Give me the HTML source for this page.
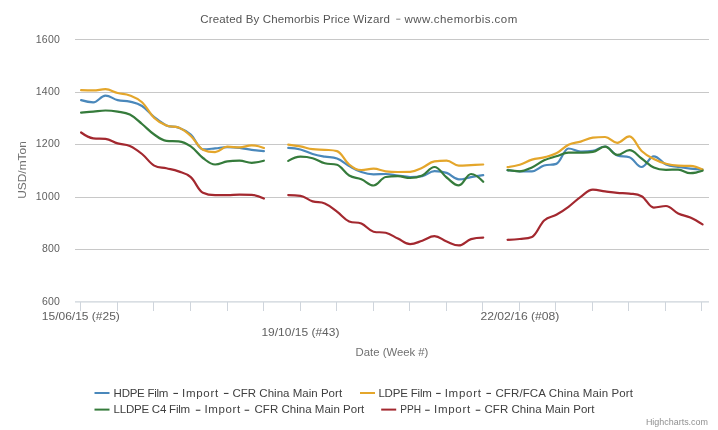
<!DOCTYPE html>
<html><head><meta charset="utf-8"><title>Chart</title>
<style>html,body{margin:0;padding:0;background:#fff;width:718px;height:430px;overflow:hidden}
svg{display:block;font-family:"Liberation Sans",sans-serif;will-change:transform}
#w{width:718px;height:430px}</style></head>
<body><div id="w"><svg width="718" height="430" viewBox="0 0 718 430">
<rect x="0" y="0" width="718" height="430" fill="#ffffff"/>
<path d="M 75 39.5 L 709 39.5" stroke="#c8c8c8" stroke-width="1" fill="none"/>
<path d="M 75 92.5 L 709 92.5" stroke="#c8c8c8" stroke-width="1" fill="none"/>
<path d="M 75 144.5 L 709 144.5" stroke="#c8c8c8" stroke-width="1" fill="none"/>
<path d="M 75 197.5 L 709 197.5" stroke="#c8c8c8" stroke-width="1" fill="none"/>
<path d="M 75 249.5 L 709 249.5" stroke="#c8c8c8" stroke-width="1" fill="none"/>
<path d="M 75 301.8 L 709 301.8" stroke="#ccd3da" stroke-width="1.3" fill="none"/>
<path d="M 80.5 302 L 80.5 311" stroke="#cfd5dc" stroke-width="1"/>
<path d="M 117.5 302 L 117.5 311" stroke="#cfd5dc" stroke-width="1"/>
<path d="M 153.5 302 L 153.5 311" stroke="#cfd5dc" stroke-width="1"/>
<path d="M 190.5 302 L 190.5 311" stroke="#cfd5dc" stroke-width="1"/>
<path d="M 227.5 302 L 227.5 311" stroke="#cfd5dc" stroke-width="1"/>
<path d="M 263.5 302 L 263.5 311" stroke="#cfd5dc" stroke-width="1"/>
<path d="M 300.5 302 L 300.5 311" stroke="#cfd5dc" stroke-width="1"/>
<path d="M 336.5 302 L 336.5 311" stroke="#cfd5dc" stroke-width="1"/>
<path d="M 373.5 302 L 373.5 311" stroke="#cfd5dc" stroke-width="1"/>
<path d="M 409.5 302 L 409.5 311" stroke="#cfd5dc" stroke-width="1"/>
<path d="M 446.5 302 L 446.5 311" stroke="#cfd5dc" stroke-width="1"/>
<path d="M 482.5 302 L 482.5 311" stroke="#cfd5dc" stroke-width="1"/>
<path d="M 519.5 302 L 519.5 311" stroke="#cfd5dc" stroke-width="1"/>
<path d="M 555.5 302 L 555.5 311" stroke="#cfd5dc" stroke-width="1"/>
<path d="M 592.5 302 L 592.5 311" stroke="#cfd5dc" stroke-width="1"/>
<path d="M 628.5 302 L 628.5 311" stroke="#cfd5dc" stroke-width="1"/>
<path d="M 665.5 302 L 665.5 311" stroke="#cfd5dc" stroke-width="1"/>
<path d="M 701.5 302 L 701.5 311" stroke="#cfd5dc" stroke-width="1"/>
<text x="60" y="42.5" text-anchor="end" font-size="10.5" fill="#606060" letter-spacing="0.2">1600</text>
<text x="60" y="95.0" text-anchor="end" font-size="10.5" fill="#606060" letter-spacing="0.2">1400</text>
<text x="60" y="147.3" text-anchor="end" font-size="10.5" fill="#606060" letter-spacing="0.2">1200</text>
<text x="60" y="200.0" text-anchor="end" font-size="10.5" fill="#606060" letter-spacing="0.2">1000</text>
<text x="60" y="252.3" text-anchor="end" font-size="10.5" fill="#606060" letter-spacing="0.2">800</text>
<text x="60" y="304.5" text-anchor="end" font-size="10.5" fill="#606060" letter-spacing="0.2">600</text>
<text x="80.8" y="320.3" text-anchor="middle" font-size="11" fill="#606060" textLength="78" lengthAdjust="spacingAndGlyphs">15/06/15 (#25)</text>
<text x="300.4" y="336" text-anchor="middle" font-size="11" fill="#606060" textLength="78" lengthAdjust="spacingAndGlyphs">19/10/15 (#43)</text>
<text x="519.9" y="320.3" text-anchor="middle" font-size="11" fill="#606060" textLength="78.9" lengthAdjust="spacingAndGlyphs">22/02/16 (#08)</text>
<text x="392" y="355.6" text-anchor="middle" font-size="11" fill="#707070" textLength="72.8" lengthAdjust="spacingAndGlyphs">Date (Week #)</text>
<text transform="translate(25.5,170) rotate(-90)" x="0" y="0" text-anchor="middle" font-size="11" fill="#707070" textLength="57.6" lengthAdjust="spacingAndGlyphs">USD/mTon</text>
<path d="M 81.1 100.1 C 81.1 100.1 88.41 102.3 93.28 102.3 C 98.16 102.3 100.6 95.6 105.47 95.6 C 110.34 95.6 112.78 98.9 117.66 100.1 C 122.53 101.3 124.97 100.42 129.84 101.6 C 134.71 102.78 137.15 102.92 142.03 106 C 146.9 109.08 149.34 113.12 154.21 117 C 159.08 120.88 161.52 123.28 166.39 125.4 C 171.27 127.52 173.71 125.78 178.58 127.6 C 183.45 129.42 185.89 130.16 190.76 134.5 C 195.64 138.84 198.08 149.3 202.95 149.3 C 207.82 149.3 210.26 148.84 215.13 148.4 C 220.01 147.96 222.45 147.1 227.32 147.1 C 232.19 147.1 234.63 147.24 239.5 147.8 C 244.38 148.36 246.82 149.24 251.69 149.9 C 256.56 150.56 263.88 151.1 263.88 151.1 M 288.25 147.9 C 288.25 147.9 295.56 148.28 300.43 149.5 C 305.3 150.72 307.74 152.56 312.62 154 C 317.49 155.44 319.93 155.8 324.8 156.7 C 329.67 157.6 332.11 156.7 336.99 158.5 C 341.86 160.3 344.3 163.3 349.17 166 C 354.04 168.7 356.48 170.34 361.36 172 C 366.23 173.66 368.67 174.3 373.54 174.3 C 378.41 174.3 380.85 174 385.73 174 C 390.6 174 393.04 174.9 397.91 175.5 C 402.78 176.1 405.22 177 410.1 177 C 414.97 177 417.41 177 422.28 176.1 C 427.15 175.2 429.59 171.2 434.47 171.2 C 439.34 171.2 441.78 171.26 446.65 172.9 C 451.52 174.54 453.96 179.4 458.84 179.4 C 463.71 179.4 466.15 177.96 471.02 177.1 C 475.89 176.24 483.21 175.1 483.21 175.1 M 507.58 170.2 C 507.58 170.2 514.89 171.3 519.76 171.3 C 524.63 171.3 527.07 171.3 531.95 171.3 C 536.82 171.3 539.26 166.98 544.13 165.5 C 549 164.02 551.44 165.5 556.32 163.9 C 561.19 162.3 563.63 148.5 568.5 148.5 C 573.37 148.5 575.81 151.6 580.69 151.6 C 585.56 151.6 588 151.6 592.87 150.8 C 597.74 150 600.18 146.5 605.06 146.5 C 609.93 146.5 612.37 153.8 617.24 155.5 C 622.11 157.2 624.55 155.5 629.43 157.2 C 634.3 158.9 636.74 167 641.61 167 C 646.48 167 648.92 156.3 653.8 156.3 C 658.67 156.3 661.11 162.36 665.98 164.5 C 670.85 166.64 673.29 166.18 678.17 167 C 683.04 167.82 685.48 168.08 690.35 168.6 C 695.22 169.12 702.54 169.6 702.54 169.6" stroke="#4a88bb" stroke-width="2.2" fill="none" stroke-linecap="round" stroke-linejoin="round"/>
<path d="M 81.1 90.2 C 81.1 90.2 88.41 90.4 93.28 90.4 C 98.16 90.4 100.6 89.2 105.47 89.2 C 110.34 89.2 112.78 91.74 117.66 93 C 122.53 94.26 124.97 93.64 129.84 95.5 C 134.71 97.36 137.15 97.8 142.03 102.3 C 146.9 106.8 149.34 113.34 154.21 118 C 159.08 122.66 161.52 123.68 166.39 125.6 C 171.27 127.52 173.71 125.6 178.58 127.6 C 183.45 129.6 185.89 131.58 190.76 136 C 195.64 140.42 198.08 147.3 202.95 149.7 C 207.82 152.1 210.26 152.1 215.13 152.1 C 220.01 152.1 222.45 146.7 227.32 146.7 C 232.19 146.7 234.63 147.4 239.5 147.4 C 244.38 147.4 246.82 145.3 251.69 145.3 C 256.56 145.3 263.88 148 263.88 148 M 288.25 144.6 C 288.25 144.6 295.56 145.48 300.43 146.4 C 305.3 147.32 307.74 148.6 312.62 149.2 C 317.49 149.8 319.93 149.42 324.8 149.8 C 329.67 150.18 332.11 149.8 336.99 151.1 C 341.86 152.4 344.3 160.72 349.17 164.5 C 354.04 168.28 356.48 170 361.36 170 C 366.23 170 368.67 168.7 373.54 168.7 C 378.41 168.7 380.85 170.64 385.73 171.3 C 390.6 171.96 393.04 172 397.91 172 C 402.78 172 405.22 172 410.1 171.9 C 414.97 171.8 417.41 169.8 422.28 167.7 C 427.15 165.6 429.59 162.1 434.47 161.4 C 439.34 160.7 441.78 160.7 446.65 160.7 C 451.52 160.7 453.96 165.6 458.84 165.6 C 463.71 165.6 466.15 165.32 471.02 165.1 C 475.89 164.88 483.21 164.5 483.21 164.5 M 507.58 167.1 C 507.58 167.1 514.89 166.2 519.76 164.7 C 524.63 163.2 527.07 161.06 531.95 159.6 C 536.82 158.14 539.26 158.66 544.13 157.4 C 549 156.14 551.44 155.84 556.32 153.3 C 561.19 150.76 563.63 147.04 568.5 144.7 C 573.37 142.36 575.81 143.02 580.69 141.6 C 585.56 140.18 588 138.2 592.87 137.6 C 597.74 137 600.18 137 605.06 137 C 609.93 137 612.37 142.8 617.24 142.8 C 622.11 142.8 624.55 136.4 629.43 136.4 C 634.3 136.4 636.74 146.48 641.61 151 C 646.48 155.52 648.92 156.44 653.8 159 C 658.67 161.56 661.11 162.46 665.98 163.8 C 670.85 165.14 673.29 165.5 678.17 165.7 C 683.04 165.9 685.48 165.7 690.35 165.9 C 695.22 166.1 702.54 169.5 702.54 169.5" stroke="#e4a62b" stroke-width="2.2" fill="none" stroke-linecap="round" stroke-linejoin="round"/>
<path d="M 81.1 112.7 C 81.1 112.7 88.41 112.04 93.28 111.6 C 98.16 111.16 100.6 110.5 105.47 110.5 C 110.34 110.5 112.78 110.78 117.66 111.6 C 122.53 112.42 124.97 112.12 129.84 114.6 C 134.71 117.08 137.15 120.02 142.03 124 C 146.9 127.98 149.34 131.14 154.21 134.5 C 159.08 137.86 161.52 140.3 166.39 140.8 C 171.27 141.3 173.71 140.8 178.58 141.3 C 183.45 141.8 185.89 142.96 190.76 146.3 C 195.64 149.64 198.08 154.36 202.95 158 C 207.82 161.64 210.26 164.5 215.13 164.5 C 220.01 164.5 222.45 162.1 227.32 161.4 C 232.19 160.7 234.63 160.7 239.5 160.7 C 244.38 160.7 246.82 162.8 251.69 162.8 C 256.56 162.8 263.88 160.7 263.88 160.7 M 288.25 160.9 C 288.25 160.9 295.56 156.7 300.43 156.7 C 305.3 156.7 307.74 156.88 312.62 158.2 C 317.49 159.52 319.93 161.98 324.8 163.3 C 329.67 164.62 332.11 163.3 336.99 164.8 C 341.86 166.3 344.3 172.62 349.17 175.5 C 354.04 178.38 356.48 177.2 361.36 179.2 C 366.23 181.2 368.67 185.5 373.54 185.5 C 378.41 185.5 380.85 177.8 385.73 177 C 390.6 176.2 393.04 176.2 397.91 176.2 C 402.78 176.2 405.22 178 410.1 178 C 414.97 178 417.41 177.7 422.28 175.5 C 427.15 173.3 429.59 167 434.47 167 C 439.34 167 441.78 173.82 446.65 177.5 C 451.52 181.18 453.96 185.4 458.84 185.4 C 463.71 185.4 466.15 174 471.02 174 C 475.89 174 483.21 181.8 483.21 181.8 M 507.58 170.1 C 507.58 170.1 514.89 171.3 519.76 171.3 C 524.63 171.3 527.07 169.6 531.95 167.4 C 536.82 165.2 539.26 162.52 544.13 160.3 C 549 158.08 551.44 157.82 556.32 156.3 C 561.19 154.78 563.63 152.8 568.5 152.7 C 573.37 152.6 575.81 152.7 580.69 152.6 C 585.56 152.5 588 152.6 592.87 151.9 C 597.74 151.2 600.18 146.7 605.06 146.7 C 609.93 146.7 612.37 154.9 617.24 154.9 C 622.11 154.9 624.55 150.2 629.43 150.2 C 634.3 150.2 636.74 155.04 641.61 158.5 C 646.48 161.96 648.92 165.24 653.8 167.5 C 658.67 169.76 661.11 169.8 665.98 169.8 C 670.85 169.8 673.29 169.6 678.17 169.6 C 683.04 169.6 685.48 173.2 690.35 173.2 C 695.22 173.2 702.54 170.7 702.54 170.7" stroke="#357b3b" stroke-width="2.2" fill="none" stroke-linecap="round" stroke-linejoin="round"/>
<path d="M 81.1 132.5 C 81.1 132.5 88.41 137.8 93.28 138.3 C 98.16 138.8 100.6 138.3 105.47 138.8 C 110.34 139.3 112.78 141.96 117.66 143.4 C 122.53 144.84 124.97 143.88 129.84 146 C 134.71 148.12 137.15 150.08 142.03 154 C 146.9 157.92 149.34 162.9 154.21 165.6 C 159.08 168.3 161.52 167.14 166.39 168.3 C 171.27 169.46 173.71 169.62 178.58 171.4 C 183.45 173.18 185.89 172.92 190.76 177.2 C 195.64 181.48 198.08 190.4 202.95 192.8 C 207.82 195.2 210.26 195.2 215.13 195.2 C 220.01 195.2 222.45 195.2 227.32 195.2 C 232.19 195.2 234.63 194.7 239.5 194.7 C 244.38 194.7 246.82 194.7 251.69 194.8 C 256.56 194.9 263.88 198.5 263.88 198.5 M 288.25 195.1 C 288.25 195.1 295.56 195.1 300.43 195.8 C 305.3 196.5 307.74 199.88 312.62 201.4 C 317.49 202.92 319.93 201.4 324.8 203.4 C 329.67 205.4 332.11 208.08 336.99 211.7 C 341.86 215.32 344.3 219.5 349.17 221.5 C 354.04 223.5 356.48 221.5 361.36 223.5 C 366.23 225.5 368.67 230.6 373.54 231.7 C 378.41 232.8 380.85 231.7 385.73 232.8 C 390.6 233.9 393.04 236.24 397.91 238.5 C 402.78 240.76 405.22 244.1 410.1 244.1 C 414.97 244.1 417.41 242.28 422.28 240.7 C 427.15 239.12 429.59 236.2 434.47 236.2 C 439.34 236.2 441.78 239.66 446.65 241.5 C 451.52 243.34 453.96 245.4 458.84 245.4 C 463.71 245.4 466.15 240.6 471.02 239.1 C 475.89 237.6 483.21 237.6 483.21 237.6 M 507.58 239.8 C 507.58 239.8 514.89 239.56 519.76 239 C 524.63 238.44 527.07 239 531.95 237 C 536.82 235 539.26 224.94 544.13 220.5 C 549 216.06 551.44 217.54 556.32 214.8 C 561.19 212.06 563.63 210.4 568.5 206.8 C 573.37 203.2 575.81 200.22 580.69 196.8 C 585.56 193.38 588 189.7 592.87 189.7 C 597.74 189.7 600.18 190.76 605.06 191.4 C 609.93 192.04 612.37 192.46 617.24 192.9 C 622.11 193.34 624.55 192.94 629.43 193.6 C 634.3 194.26 636.74 193.6 641.61 196.2 C 646.48 198.8 648.92 207.6 653.8 207.6 C 658.67 207.6 661.11 206 665.98 206 C 670.85 206 673.29 211.2 678.17 213.5 C 683.04 215.8 685.48 215.32 690.35 217.5 C 695.22 219.68 702.54 224.4 702.54 224.4" stroke="#a3282f" stroke-width="2.2" fill="none" stroke-linecap="round" stroke-linejoin="round"/>
<text x="113.60" y="396.6" font-size="11.5" fill="#404040" textLength="54.86" lengthAdjust="spacing">HDPE Film</text>
<rect x="173.40" y="392.90" width="4.60" height="1.1" fill="#404040"/>
<text x="182.10" y="396.6" font-size="11.5" fill="#404040" textLength="35.99" lengthAdjust="spacing">Import</text>
<rect x="223.90" y="392.90" width="4.60" height="1.1" fill="#404040"/>
<text x="232.40" y="396.6" font-size="11.5" fill="#404040" textLength="109.68" lengthAdjust="spacing">CFR China Main Port</text>
<text x="378.40" y="396.6" font-size="11.5" fill="#404040" textLength="53.45" lengthAdjust="spacing">LDPE Film</text>
<rect x="436.10" y="392.90" width="4.60" height="1.1" fill="#404040"/>
<text x="444.70" y="396.6" font-size="11.5" fill="#404040" textLength="36.19" lengthAdjust="spacing">Import</text>
<rect x="486.40" y="392.90" width="4.60" height="1.1" fill="#404040"/>
<text x="495.40" y="396.6" font-size="11.5" fill="#404040" textLength="137.54" lengthAdjust="spacing">CFR/FCA China Main Port</text>
<text x="113.60" y="413.4" font-size="11.5" fill="#404040" textLength="76.54" lengthAdjust="spacing">LLDPE C4 Film</text>
<rect x="195.80" y="409.70" width="4.60" height="1.1" fill="#404040"/>
<text x="204.50" y="413.4" font-size="11.5" fill="#404040" textLength="35.59" lengthAdjust="spacing">Import</text>
<rect x="244.60" y="409.70" width="4.60" height="1.1" fill="#404040"/>
<text x="254.50" y="413.4" font-size="11.5" fill="#404040" textLength="109.78" lengthAdjust="spacing">CFR China Main Port</text>
<text x="400.21" y="413.4" font-size="11.5" fill="#404040" textLength="20.83" lengthAdjust="spacingAndGlyphs">PPH</text>
<rect x="425.10" y="409.70" width="4.60" height="1.1" fill="#404040"/>
<text x="434.00" y="413.4" font-size="11.5" fill="#404040" textLength="36.19" lengthAdjust="spacing">Import</text>
<rect x="475.70" y="409.70" width="4.60" height="1.1" fill="#404040"/>
<text x="484.50" y="413.4" font-size="11.5" fill="#404040" textLength="109.88" lengthAdjust="spacing">CFR China Main Port</text>
<path d="M 94.5 393 L 109.5 393" stroke="#4a88bb" stroke-width="2"/>
<path d="M 360 393 L 375 393" stroke="#e4a62b" stroke-width="2"/>
<path d="M 94.5 409.6 L 109.5 409.6" stroke="#357b3b" stroke-width="2"/>
<path d="M 381.2 409.6 L 396.2 409.6" stroke="#a3282f" stroke-width="2"/>
<text x="200.30" y="23" font-size="11.5" fill="#555555" textLength="189.59" lengthAdjust="spacing">Created By Chemorbis Price Wizard</text>
<text x="404.50" y="23" font-size="11.5" fill="#555555" textLength="112.74" lengthAdjust="spacing">www.chemorbis.com</text>
<rect x="396.20" y="18.70" width="4.20" height="0.9" fill="#777777"/>
<text x="708" y="425.2" text-anchor="end" font-size="9" fill="#909090" textLength="62.1" lengthAdjust="spacingAndGlyphs">Highcharts.com</text>
</svg></div></body></html>
